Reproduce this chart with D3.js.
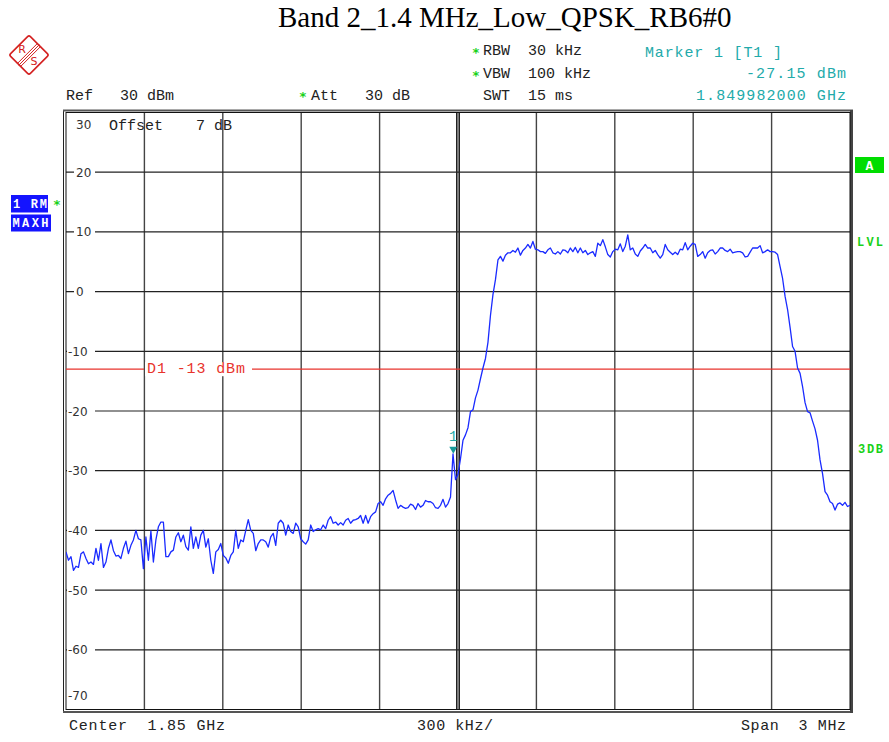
<!DOCTYPE html>
<html><head><meta charset="utf-8">
<script src="https://cdn.jsdelivr.net/npm/d3@7"></script>
<style>
html,body{margin:0;padding:0;background:#fff;}
svg{display:block;}
</style></head><body>
<svg id="chart" width="889" height="742"></svg>
<script>
// ---------------- data ----------------
const titleText = "Band 2_1.4 MHz_Low_QPSK_RB6#0";
const centerGHz = 1.85;
const spanGHz = 0.003;
const levelTicks = [30, 20, 10, 0, -10, -20, -30, -40, -50, -60, -70];
const levelRange = [-70, 30];
const displayLineLevel = -13;
const markerFreqGHz = 1.849982;
const markerLevel = -27.15;
const headerLeft = ["Ref   30 dBm", "Att   30 dB"];
const headerRight = ["RBW  30 kHz", "VBW  100 kHz", "SWT  15 ms"];
const markerTexts = ["Marker 1 [T1 ]", "-27.15 dBm", "1.849982000 GHz"];
const footerTexts = ["Center  1.85 GHz", "300 kHz/", "Span  3 MHz"];
// trace in dBm, equally spaced over the span (max-hold)
const trace = [
-43.6,-45.0,-44.4,-46.7,-46.0,-46.2,-43.9,-43.6,-44.7,-45.6,
-45.3,-45.7,-43.0,-45.0,-42.2,-46.2,-45.3,-43.0,-41.6,-43.4,
-44.3,-44.2,-44.7,-43.0,-41.8,-43.9,-42.5,-41.6,-40.0,-41.4,
-41.6,-46.4,-41.1,-45.0,-40.1,-45.3,-41.6,-39.4,-38.6,-38.6,
-44.4,-44.4,-43.6,-43.3,-41.1,-40.4,-41.9,-40.8,-42.7,-43.3,
-39.4,-43.0,-41.1,-43.0,-40.8,-40.0,-42.8,-41.4,-45.0,-47.2,
-43.6,-43.2,-42.2,-44.2,-44.6,-45.5,-44.2,-43.6,-40.0,-43.0,
-41.6,-41.9,-40.0,-38.2,-40.0,-40.5,-43.4,-42.2,-41.6,
-41.6,-41.9,-42.8,-41.1,-40.5,-42.5,-38.8,-38.3,-38.8,-40.8,
-39.1,-40.2,-40.5,-38.8,-39.4,-41.4,-41.9,-42.3,-41.6,-39.1,
-40.2,-39.9,-39.7,-39.9,-39.1,-39.7,-38.3,-37.7,-38.8,-38.6,
-39.1,-38.7,-39.1,-38.3,-38.0,-38.8,-38.3,-38.2,-38.0,-37.5,
-38.8,-37.5,-38.8,-37.7,-37.2,-36.9,-35.5,-35.2,-35.8,-34.7,
-34.1,-33.8,-33.3,-34.9,-36.3,-35.8,-36.1,-36.3,-36.2,-35.6,
-35.8,-36.5,-35.5,-36.1,-35.8,-35.0,-35.2,-35.2,-35.5,-36.2,
-36.3,-35.8,-34.8,-36.1,-35.5,-34.4,
-27.2,-31.5,-30.6,-28.0,-24.9,-24.0,-22.8,-20.1,-19.8,-17.8,
-16.5,-14.6,-12.8,-11.2,-8.5,-4.0,-0.5,2.0,5.3,
5.9,5.1,6.1,6.5,6.5,6.9,6.6,7.3,6.1,6.9,
7.3,7.9,7.3,8.4,7.1,7.0,6.7,6.7,6.4,7.0,
7.3,6.5,6.3,6.7,6.3,7.0,6.9,6.5,7.3,6.7,
7.4,6.5,7.3,6.5,6.9,6.2,6.5,6.7,5.9,8.1,
7.7,8.7,7.5,6.2,5.8,6.7,7.1,7.0,8.0,6.7,
7.6,9.5,7.0,7.3,6.3,5.9,
6.8,7.3,7.9,7.3,7.3,6.5,6.9,6.2,5.6,6.2,
7.9,7.0,6.6,6.2,6.6,6.2,7.1,7.0,8.2,7.0,
7.6,8.1,7.9,5.9,6.2,6.7,5.6,6.5,6.9,7.0,
6.3,6.7,7.3,7.3,6.9,6.7,7.1,6.5,6.6,6.7,
6.7,6.5,5.8,5.9,6.6,7.3,7.3,7.3,7.7,6.5,
6.7,7.0,6.7,6.7,6.6,6.2,
4.2,2.2,-0.8,-3.0,-6.0,-9.2,-10.0,-12.8,-13.7,-15.9,
-18.6,-20.1,-20.3,-21.7,-23.0,-24.9,-28.2,-30.5,-33.5,-34.1,
-35.2,-35.5,-36.6,-35.6,-35.4,-35.8,-35.3,-36.0,-35.8
];

// ---------------- layout ----------------
const svg = d3.select("#chart");
const L = 66, R = 850, T = 112.5, B = 709.5;
const fStart = centerGHz - spanGHz / 2, fStop = centerGHz + spanGHz / 2;
const x = d3.scaleLinear().domain([fStart, fStop]).range([L, R]);
const y = d3.scaleLinear().domain(levelRange).range([B, T]);
const MONO = "'Liberation Mono','DejaVu Sans Mono',monospace";
const SANS = "'DejaVu Sans',Verdana,sans-serif";
const TEAL = "#22aaaa";
const GREEN = "#19d219";
const RED = "#e8332c";
const BLUE = "#1414ff";

svg.append("rect").attr("width", 889).attr("height", 742).attr("fill", "#fff");

// title
svg.append("text").attr("x", 278).attr("y", 27)
  .attr("font-family", "'Liberation Serif','Times New Roman',serif")
  .attr("font-size", 29).attr("fill", "#000").text(titleText);

// R&S logo
const logo = svg.append("g").attr("transform", "translate(29,55)");
logo.append("rect").attr("x", -14).attr("y", -14).attr("width", 28).attr("height", 28)
  .attr("rx", 2).attr("transform", "rotate(45)")
  .attr("fill", "none").attr("stroke", "#d42020").attr("stroke-width", 1.6);
[-2.2, 0, 2.2].forEach(d => {
  const o = d * 0.707;
  logo.append("line").attr("x1", -10.3 + o).attr("y1", 10.3 + o).attr("x2", 10.3 + o).attr("y2", -10.3 + o)
    .attr("stroke", "#d42020").attr("stroke-width", 1);
});
logo.append("text").attr("x", -7).attr("y", -2.5).attr("font-family", SANS).attr("font-size", 11)
  .attr("fill", "#d42020").attr("text-anchor", "middle").text("R");
logo.append("text").attr("x", 5).attr("y", 10).attr("font-family", SANS).attr("font-size", 11)
  .attr("fill", "#d42020").attr("text-anchor", "middle").text("S");

// header texts
function mono(xp, yp, s, color, opts) {
  const t = svg.append("text").attr("x", xp).attr("y", yp)
    .attr("font-family", MONO).attr("font-size", (opts && opts.size) || 15)
    .attr("fill", color || "#222").attr("xml:space", "preserve")
    .style("white-space", "pre").text(s);
  if (opts && opts.anchor) t.attr("text-anchor", opts.anchor);
  if (opts && opts.len) t.attr("textLength", opts.len).attr("lengthAdjust", "spacing");
  if (opts && opts.weight) t.attr("font-weight", opts.weight);
  return t;
}
function star(xp, yp) {
  svg.append("text").attr("x", xp).attr("y", yp).attr("font-family", SANS).attr("font-size", 13)
    .attr("font-weight", "bold").attr("fill", GREEN).attr("text-anchor", "middle").text("*");
}
mono(66, 99.5, headerLeft[0]);
star(303, 101); mono(311, 99.5, headerLeft[1]);
star(476, 57); mono(483, 55, headerRight[0]);
star(476, 79.5); mono(483, 77.5, headerRight[1]);
mono(483, 99.5, headerRight[2]);
mono(645, 56.5, markerTexts[0], TEAL, { len: 137 });
mono(846, 78, markerTexts[1], TEAL, { anchor: "end", len: 100 });
mono(846, 99.5, markerTexts[2], TEAL, { anchor: "end", len: 150 });

// footer
mono(69, 730, footerTexts[0], "#222", { len: 156 });
mono(417, 730, footerTexts[1], "#222", { len: 76 });
mono(846, 730, footerTexts[2], "#222", { anchor: "end", len: 105 });

// ---------------- grid ----------------
const g = svg.append("g");
const vTicks = d3.range(1, 10).map(k => fStart + k * spanGHz / 10);
g.selectAll("line.v").data(vTicks).enter().append("line")
  .attr("x1", d => x(d)).attr("x2", d => x(d)).attr("y1", T).attr("y2", B)
  .attr("stroke", "#444").attr("stroke-width", 1.4);
// center double line
g.append("line").attr("x1", x(centerGHz) - 1.5).attr("x2", x(centerGHz) - 1.5).attr("y1", T).attr("y2", B)
  .attr("stroke", "#222").attr("stroke-width", 1);
g.append("line").attr("x1", x(centerGHz) + 1.5).attr("x2", x(centerGHz) + 1.5).attr("y1", T).attr("y2", B)
  .attr("stroke", "#222").attr("stroke-width", 1);
const hTicks = levelTicks.filter(v => v < 30 && v > -70);
g.selectAll("line.h").data(hTicks).enter().append("line")
  .attr("x1", L).attr("x2", R).attr("y1", d => y(d)).attr("y2", d => y(d))
  .attr("stroke", "#222").attr("stroke-width", 1.2);

// frame
svg.append("line").attr("x1", 63.5).attr("x2", 63.5).attr("y1", 110).attr("y2", 712.5).attr("stroke", "#222").attr("stroke-width", 1);
svg.append("line").attr("x1", 63).attr("x2", 853).attr("y1", 110.5).attr("y2", 110.5).attr("stroke", "#555").attr("stroke-width", 2);
svg.append("line").attr("x1", 63).attr("x2", 853).attr("y1", 712).attr("y2", 712).attr("stroke", "#555").attr("stroke-width", 2);
svg.append("rect").attr("x", 850).attr("y", 110).attr("width", 3).attr("height", 603).attr("fill", "#444");
svg.append("rect").attr("x", L).attr("y", T).attr("width", R - L).attr("height", B - T)
  .attr("fill", "none").attr("stroke", "#111").attr("stroke-width", 1);

// level labels
hTicks.forEach(v => {
  svg.append("rect").attr("x", v < 0 ? 67 : 74).attr("y", y(v) - 7).attr("width", v < 0 ? 28 : 21).attr("height", 14).attr("fill", "#fff");
  svg.append("text").attr("x", v < 0 ? 68 : 76).attr("y", y(v) + 4.5)
    .attr("font-family", SANS).attr("font-size", 12).attr("fill", "#333").text(String(v));
});
svg.append("text").attr("x", 76).attr("y", y(30) + 16.5).attr("font-family", SANS).attr("font-size", 12).attr("fill", "#333").text("30");
svg.append("text").attr("x", 68).attr("y", y(-70) - 10).attr("font-family", SANS).attr("font-size", 12).attr("fill", "#333").text("-70");
mono(109, 129.5, "Offset", "#222");
mono(196, 129.5, "7", "#222");
mono(214, 129.5, "dB", "#222");

// display line D1
const dy = y(displayLineLevel);
svg.append("line").attr("x1", L).attr("x2", 144).attr("y1", dy).attr("y2", dy).attr("stroke", RED).attr("stroke-width", 1.2);
svg.append("line").attr("x1", 252).attr("x2", R).attr("y1", dy).attr("y2", dy).attr("stroke", RED).attr("stroke-width", 1.2);
svg.append("rect").attr("x", 145).attr("y", dy - 7).attr("width", 106).attr("height", 14).attr("fill", "#fff");
mono(147, dy + 4, "D1 -13 dBm", RED, { len: 98 });

// trace
svg.append("clipPath").attr("id", "pc").append("rect").attr("x", L).attr("y", T).attr("width", R - L).attr("height", B - T);
const n = trace.length;
const line = d3.line().x((d, i) => x(fStart + i * spanGHz / (n - 1))).y(d => y(d));
svg.append("path").datum(trace).attr("d", line).attr("clip-path", "url(#pc)")
  .attr("fill", "none").attr("stroke", "#1a2bff").attr("stroke-width", 1.3).attr("stroke-linejoin", "round");

// marker
const mx = x(markerFreqGHz), my = y(markerLevel);
svg.append("path").attr("d", `M${mx - 4},${my - 7} L${mx + 4},${my - 7} L${mx},${my} Z`).attr("fill", "#179a9a");
svg.append("text").attr("x", mx).attr("y", my - 13).attr("text-anchor", "middle")
  .attr("font-family", MONO).attr("font-size", 14).attr("fill", TEAL).text("1");

// left boxes
svg.append("rect").attr("x", 11).attr("y", 195).attr("width", 37).attr("height", 17.5).attr("fill", BLUE);
mono(13, 207.5, "1 RM", "#fff", { size: 12, weight: "bold", len: 34 });
svg.append("rect").attr("x", 11).attr("y", 214.5).attr("width", 40).attr("height", 17).attr("fill", BLUE);
mono(12.5, 227, "MAXH", "#fff", { size: 12, weight: "bold", len: 36 });
star(57, 209);

// right labels
svg.append("rect").attr("x", 855).attr("y", 157).attr("width", 29).attr("height", 16).attr("fill", "#00dd00");
mono(869.5, 169.5, "A", "#fff", { size: 13, weight: "bold", anchor: "middle" });
mono(857, 245.5, "LVL", GREEN, { size: 12, weight: "bold", len: 26 });
mono(858, 452.5, "3DB", GREEN, { size: 12, weight: "bold", len: 25 });
</script>
</body></html>
